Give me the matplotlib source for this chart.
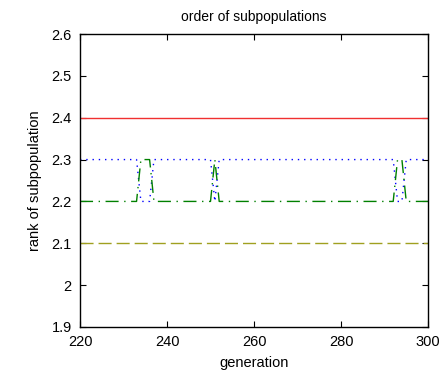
import matplotlib.pyplot as plt
import numpy as np

# generaciones 220..300
gen = np.arange(220, 301)

# rango de cada subpoblacion (casi constante, con intercambios entre 2.2 y 2.3)
rank_red = np.full(gen.size, 2.4)
rank_olive = np.full(gen.size, 2.1)
rank_green = np.full(gen.size, 2.2)
rank_blue = np.full(gen.size, 2.3)

swap_gens = [234, 235, 236, 251, 293, 294]  # generaciones donde verde y azul se intercambian
for g in swap_gens:
    rank_green[gen == g] = 2.3
    rank_blue[gen == g] = 2.2

plt.rcParams['font.family'] = ['Liberation Sans', 'DejaVu Sans']

fig = plt.figure(figsize=(4.46, 3.73), dpi=100)
ax = fig.add_axes([80 / 446, 46 / 373, 348 / 446, 293 / 373])

ax.plot(gen, rank_red, color='#f03030', lw=1.0)
ax.plot(gen, rank_blue, color='#0000ff', lw=1.0, linestyle=(0, (1, 3.5)))
ax.plot(gen, rank_green, color='#008000', lw=1.0, linestyle=(0, (9.4, 4, 1, 4)))
ax.plot(gen, rank_olive, color='#a0a020', lw=1.0, linestyle=(0, (9.4, 3.6)))

ax.set_xlim(220, 300)
ax.set_ylim(1.9, 2.6)
ax.set_xticks(np.arange(220, 301, 20))
ax.set_yticks(np.arange(1.9, 2.61, 0.1))
ax.set_yticklabels(['1.9', '2', '2.1', '2.2', '2.3', '2.4', '2.5', '2.6'])

ax.tick_params(direction='in', length=4, labelsize=10.5, top=True, right=True,
               labeltop=False, labelright=False)
ax.tick_params(axis='x', pad=6)
ax.tick_params(axis='y', pad=6)
for s in ax.spines.values():
    s.set_linewidth(1.0)

ax.set_xlabel('generation', fontsize=10.5, labelpad=5)
ax.set_ylabel('rank of subpopulation', fontsize=10.5, labelpad=7)
ax.set_title('order of subpopulations', fontsize=10, pad=9)

fig.savefig('out.png', dpi=100)
